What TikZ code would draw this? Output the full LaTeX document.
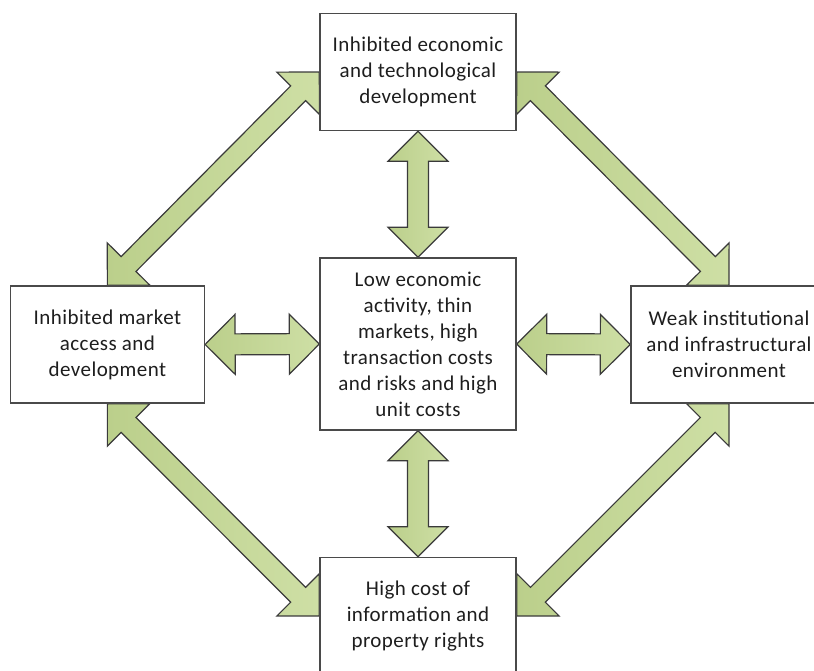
\documentclass[tikz,border=0pt]{standalone}
\usepackage{fontspec}
\setmainfont{Carlito}[LetterSpace=2]
\usetikzlibrary{calc,backgrounds}
\definecolor{gdark}{HTML}{BBCF8B}
\definecolor{glight}{HTML}{CEDFA5}
\definecolor{arredge}{HTML}{3A3A3A}
\definecolor{boxedge}{HTML}{4A4A4A}
\definecolor{txt}{HTML}{1E1E1E}
\tikzset{
  fatarrow/.style={draw=arredge, line width=1.2pt, line join=miter, left color=gdark, right color=glight},
  infobox/.style={draw=boxedge, line width=1.4pt, fill=white, align=center, inner sep=0pt,
    text=txt, font=\fontsize{21}{26}\selectfont}
}
\newcommand\dblarrow[2]{%
  \path let \p1=(#1), \p2=(#2), \n1={atan2(\y2-\y1,\x2-\x1)}, \n2={veclen(\x2-\x1,\y2-\y1)} in
    \pgfextra{\xdef\arrang{\n1}\xdef\arrlen{\n2}};
  \begin{scope}[shift={(#1)}, rotate=\arrang]
    \draw[fatarrow] (0,0) -- (30,-30) -- (30,-10.5) -- (\arrlen-30,-10.5) -- (\arrlen-30,-30)
      -- (\arrlen,0) -- (\arrlen-30,30) -- (\arrlen-30,10.5) -- (30,10.5) -- (30,30) -- cycle;
  \end{scope}}
\begin{document}
\begin{tikzpicture}[x=1pt,y=-1pt]
\useasboundingbox (0,0) rectangle (814,670);
\node[infobox, minimum width=196pt, minimum height=117pt] (top) at (418,72)
  {Inhibited economic\\and technological\\development};
\node[infobox, minimum width=196pt, minimum height=172pt] (mid) at (418,344)
  {Low economic\\activity, thin\\markets, high\\transaction costs\\and risks and high\\unit costs};
\node[infobox, minimum width=194pt, minimum height=117pt] (left) at (107.4,344.5)
  {Inhibited market\\access and\\development};
\node[infobox, minimum width=196pt, minimum height=117pt] (right) at (729,344.5)
  {Weak institutional\\and infrastructural\\environment};
\node[infobox, minimum width=196pt, minimum height=117pt] (bot) at (418,616)
  {High cost of\\information and\\property rights};
\begin{pgfonlayer}{background}
  \dblarrow{left.north}{top.west}
  \dblarrow{top.east}{right.north}
  \dblarrow{left.south}{bot.west}
  \dblarrow{right.south}{bot.east}
  \dblarrow{top.south}{mid.north}
  \dblarrow{mid.south}{bot.north}
  \dblarrow{left.east}{mid.west}
  \dblarrow{mid.east}{right.west}
\end{pgfonlayer}
\end{tikzpicture}
\end{document}
